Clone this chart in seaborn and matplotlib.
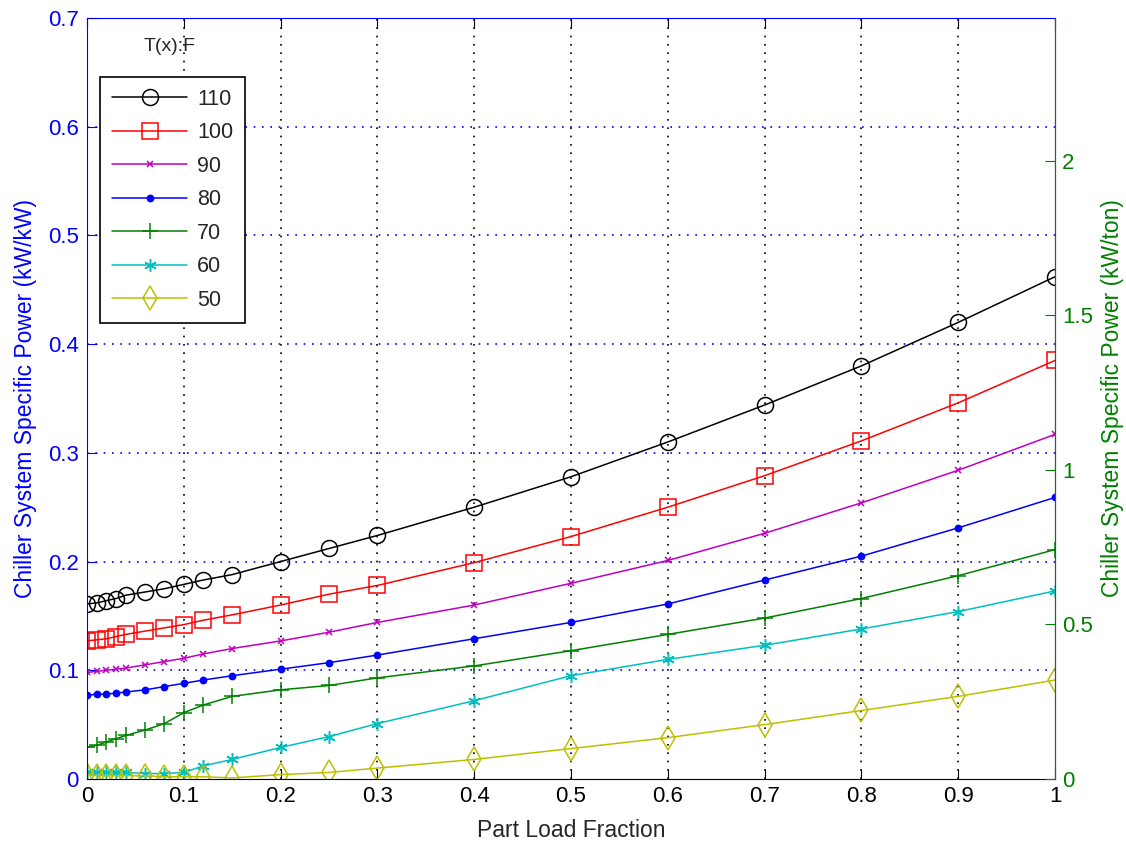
import numpy as np
import pandas as pd
import seaborn as sns
import matplotlib.pyplot as plt

# Part load fraction (x) and specific power (kW/kW) per condenser temperature
plf = [0, 0.01, 0.02, 0.03, 0.04, 0.06, 0.08, 0.1, 0.12, 0.15,
       0.2, 0.25, 0.3, 0.4, 0.5, 0.6, 0.7, 0.8, 0.9, 1.0]
temps = ['110', '100', '90', '80', '70', '60', '50']

t110 = [0.161, 0.162, 0.164, 0.166, 0.169, 0.172, 0.175, 0.179, 0.183, 0.188,
        0.200, 0.212, 0.224, 0.250, 0.278, 0.310, 0.344, 0.380, 0.420, 0.462]
t100 = [0.127, 0.128, 0.129, 0.131, 0.133, 0.136, 0.139, 0.142, 0.146, 0.151,
        0.160, 0.170, 0.178, 0.199, 0.223, 0.250, 0.279, 0.311, 0.346, 0.385]
t90 = [0.098, 0.099, 0.100, 0.101, 0.102, 0.105, 0.108, 0.111, 0.115, 0.120,
       0.127, 0.135, 0.144, 0.160, 0.180, 0.201, 0.226, 0.254, 0.284, 0.317]
t80 = [0.077, 0.078, 0.078, 0.079, 0.080, 0.082, 0.085, 0.088, 0.091, 0.095,
       0.101, 0.107, 0.114, 0.129, 0.144, 0.161, 0.183, 0.205, 0.231, 0.259]
t70 = [0.029, 0.031, 0.034, 0.037, 0.040, 0.045, 0.051, 0.061, 0.068, 0.076,
       0.082, 0.086, 0.093, 0.104, 0.118, 0.133, 0.148, 0.166, 0.187, 0.211]
t60 = [0.006, 0.006, 0.006, 0.006, 0.006, 0.005, 0.005, 0.006, 0.012, 0.018,
       0.029, 0.039, 0.051, 0.072, 0.095, 0.110, 0.123, 0.138, 0.154, 0.173]
t50 = [0.004, 0.003, 0.003, 0.003, 0.003, 0.003, 0.002, 0.002, 0.002, 0.001,
       0.004, 0.006, 0.010, 0.018, 0.028, 0.038, 0.050, 0.063, 0.076, 0.091]
series = [t110, t100, t90, t80, t70, t60, t50]

colors = ['#000000', '#ff0000', '#bf00bf', '#0000ff', '#008000', '#00bfbf', '#bfbf00']
markers = ['o', 's', 'x', 'o', '+', (6, 2, 0), 'd']
msizes = [11.5, 11.5, 5, 4.5, 11.5, 9, 12]
fills = ['none', 'none', 'full', 'full', 'full', 'full', 'none']

KW_PER_TON = 3.517

sns.set_style('ticks')
plt.rcParams['font.family'] = ['Liberation Sans', 'DejaVu Sans']

fig = plt.figure(figsize=(11.26, 8.48), dpi=100)
ax = fig.add_axes([0.0773, 0.0814, 0.8597, 0.8974])

for t, vals, c, m, ms, fs in zip(temps, series, colors, markers, msizes, fills):
    sns.lineplot(x=plf, y=vals, ax=ax, color=c, marker=m, markersize=ms,
                 fillstyle=fs, markeredgecolor=c, markeredgewidth=1.1,
                 linewidth=1.1, label=t)

ax.set_xlim(0, 1)
ax.set_ylim(0, 0.7)
ax.set_xticks(np.arange(0, 1.01, 0.1))
ax.set_xticklabels(['0', '0.1', '0.2', '0.3', '0.4', '0.5', '0.6', '0.7',
                    '0.8', '0.9', '1'])
ax.set_yticks(np.arange(0, 0.71, 0.1))
ax.set_yticklabels(['0', '0.1', '0.2', '0.3', '0.4', '0.5', '0.6', '0.7'])

# matlab style dotted grid
for xv in np.arange(0.1, 1.0, 0.1):
    ax.axvline(xv, color='black', linestyle=(0, (1, 4)), linewidth=1.2, zorder=0)
for yv in np.arange(0.1, 0.71, 0.1):
    ax.axhline(yv, color='blue', linestyle=(0, (1, 4)), linewidth=1.2, zorder=0)

ax.tick_params(axis='x', direction='in', top=True, length=7, labelsize=16,
               colors='black', pad=5)
ax.tick_params(axis='y', direction='in', right=True, length=7, labelsize=16,
               colors='blue', pad=6)
ax.spines['left'].set_color('blue')
ax.spines['top'].set_color('blue')
ax.spines['bottom'].set_color('black')
ax.set_xlabel('Part Load Fraction', fontsize=16.5, labelpad=9)
ax.set_ylabel('Chiller System Specific Power (kW/kW)', fontsize=16.5,
              color='blue', labelpad=8)

ax2 = ax.twinx()
ax2.set_ylim(0, 0.7 * KW_PER_TON)
ax2.set_yticks([0, 0.5, 1, 1.5, 2])
ax2.set_yticklabels(['0', '0.5', '1', '1.5', '2'])
ax2.tick_params(axis='y', direction='in', length=7, labelsize=16,
                colors='#008000', pad=5)
ax2.spines['right'].set_color('#008000')
ax2.spines['left'].set_visible(False)
ax2.spines['top'].set_visible(False)
ax2.spines['bottom'].set_visible(False)
ax2.set_ylabel('Chiller System Specific Power (kW/ton)', fontsize=16.5,
               color='#008000', labelpad=6)

leg = ax.legend(loc='upper left', bbox_to_anchor=(0.0134, 0.9225),
                borderaxespad=0, fontsize=15.5, handlelength=3.5,
                labelspacing=0.58, fancybox=False, framealpha=1,
                edgecolor='black', borderpad=0.55, handletextpad=0.45)
leg.get_frame().set_linewidth(1.2)
ax.text(0.0857, 0.962, 'T(x):F', transform=ax.transAxes, ha='center',
        va='center', fontsize=14)

fig.savefig('out.png', dpi=100)
